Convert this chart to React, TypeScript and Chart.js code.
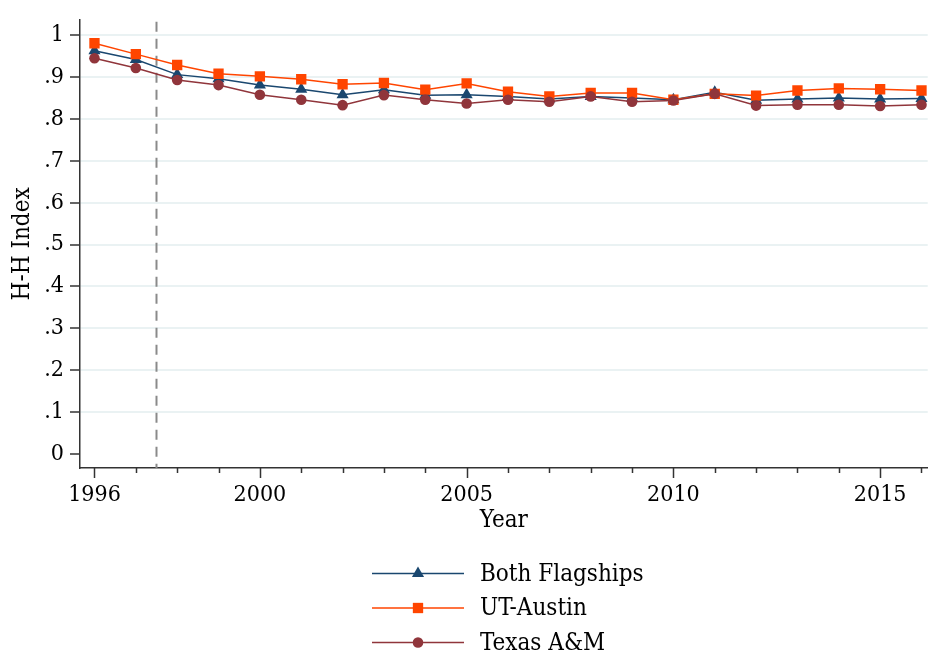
import React, { useEffect, useRef } from "react";
import { Chart, registerables } from "chart.js";

Chart.register(...registerables);

// ---- data ----
const years = [1996, 1997, 1998, 1999, 2000, 2001, 2002, 2003, 2004, 2005, 2006, 2007, 2008, 2009, 2010, 2011, 2012, 2013, 2014, 2015, 2016];
const bothFlagships = [0.963, 0.942, 0.906, 0.896, 0.881, 0.871, 0.858, 0.870, 0.857, 0.858, 0.854, 0.848, 0.854, 0.850, 0.846, 0.864, 0.845, 0.848, 0.850, 0.848, 0.849];
const utAustin = [0.981, 0.955, 0.929, 0.908, 0.902, 0.895, 0.883, 0.886, 0.870, 0.885, 0.865, 0.854, 0.862, 0.862, 0.846, 0.860, 0.856, 0.868, 0.873, 0.871, 0.868];
const texasAM = [0.945, 0.922, 0.893, 0.881, 0.858, 0.846, 0.833, 0.857, 0.846, 0.837, 0.846, 0.841, 0.854, 0.841, 0.844, 0.860, 0.832, 0.834, 0.834, 0.831, 0.834];
const seriesNames = ["Both Flagships", "UT-Austin", "Texas A&M"];
const xLabelYears = [1996, 2000, 2005, 2010, 2015];
const yTickValues = [0, 0.1, 0.2, 0.3, 0.4, 0.5, 0.6, 0.7, 0.8, 0.9, 1];
const policyYear = 1997.5;
const xTitle = "Year";
const yTitle = "H-H Index";

const NAVY = "#1a476f";
const ORANGE = "#ff4500";
const MAROON = "#90353b";
const AXIS = "#333333";
const GRID = "#eaf2f3";
const COND = "'DejaVu Serif Condensed', 'DejaVu Serif', serif";

const pointStyles = ["triangle", "rect", "circle"];
const pointRadii = [7, 7.3, 5.3];
const colors = [NAVY, ORANGE, MAROON];

function drawMarker(ctx: CanvasRenderingContext2D, style: string, x: number, y: number, r: number, color: string) {
  ctx.save();
  ctx.fillStyle = color;
  ctx.beginPath();
  if (style === "triangle") {
    ctx.moveTo(x, y - r);
    ctx.lineTo(x + r * Math.sin((2 * Math.PI) / 3), y - r * Math.cos((2 * Math.PI) / 3));
    ctx.lineTo(x + r * Math.sin((4 * Math.PI) / 3), y - r * Math.cos((4 * Math.PI) / 3));
    ctx.closePath();
  } else if (style === "rect") {
    const s = r * Math.SQRT1_2;
    ctx.rect(x - s, y - s, 2 * s, 2 * s);
  } else {
    ctx.arc(x, y, r, 0, Math.PI * 2);
  }
  ctx.fill();
  ctx.restore();
}

const refLinePlugin = {
  id: "refLine",
  beforeDatasetsDraw(chart: any) {
    const { ctx, chartArea, scales } = chart;
    const x = scales.x.getPixelForValue(policyYear);
    ctx.save();
    ctx.strokeStyle = "#8a8a8a";
    ctx.lineWidth = 2;
    ctx.setLineDash([10, 7]);
    ctx.beginPath();
    ctx.moveTo(x, chartArea.top + 2);
    ctx.lineTo(x, chartArea.bottom);
    ctx.stroke();
    ctx.restore();
  },
};

const xTickPlugin = {
  id: "xTickMarks",
  afterDraw(chart: any) {
    const { ctx, chartArea, scales } = chart;
    ctx.save();
    ctx.strokeStyle = AXIS;
    ctx.lineWidth = 1.5;
    years.forEach((yr) => {
      const x = Math.round(scales.x.getPixelForValue(yr)) + 0.5;
      const len = xLabelYears.includes(yr) ? 10 : 5;
      ctx.beginPath();
      ctx.moveTo(x, chartArea.bottom);
      ctx.lineTo(x, chartArea.bottom + len);
      ctx.stroke();
    });
    ctx.restore();
  },
};

const legendPlugin = {
  id: "customLegend",
  afterDraw(chart: any) {
    const { ctx } = chart;
    const x0 = 372;
    const x1 = 464;
    const xm = 418;
    const textX = 480;
    const rowY = [573.5, 608, 642.5];
    ctx.save();
    chart.data.datasets.forEach((ds: any, i: number) => {
      const y = rowY[i];
      ctx.strokeStyle = ds.borderColor;
      ctx.lineWidth = 1.5;
      ctx.beginPath();
      ctx.moveTo(x0, y);
      ctx.lineTo(x1, y);
      ctx.stroke();
      drawMarker(ctx, pointStyles[i], xm, y, pointRadii[i], ds.borderColor);
      ctx.fillStyle = "#000";
      ctx.font = `24px ${COND}`;
      ctx.textBaseline = "middle";
      ctx.textAlign = "left";
      ctx.fillText(ds.label, textX, y + 1);
    });
    ctx.restore();
  },
};

function formatY(v: number): string {
  if (Math.abs(v) < 1e-9) return "0";
  if (Math.abs(v - 1) < 1e-9) return "1";
  return "." + Math.round(v * 10);
}

export default function App() {
  const canvasRef = useRef<HTMLCanvasElement | null>(null);

  useEffect(() => {
    const canvas = canvasRef.current;
    if (!canvas) return;
    const seriesData = [bothFlagships, utAustin, texasAM];
    const chart = new Chart(canvas, {
      type: "line",
      data: {
        datasets: seriesData.map((vals, i) => ({
          label: seriesNames[i],
          data: years.map((yr, j) => ({ x: yr, y: vals[j] })),
          borderColor: colors[i],
          backgroundColor: colors[i],
          borderWidth: 1.5,
          pointStyle: pointStyles[i] as any,
          pointRadius: pointRadii[i],
          pointHoverRadius: pointRadii[i],
          pointBorderWidth: 0,
          pointBackgroundColor: colors[i],
          tension: 0,
          fill: false,
          order: 2 - i,
        })),
      },
      options: {
        animation: false,
        responsive: false,
        maintainAspectRatio: false,
        layout: { padding: { top: 8, right: 0, bottom: 120, left: 0 } },
        plugins: {
          legend: { display: false },
          tooltip: { enabled: false },
        },
        scales: {
          x: {
            type: "linear",
            min: 1995.65,
            max: 2016.15,
            afterBuildTicks: (scale: any) => {
              scale.ticks = years.map((v) => ({ value: v }));
            },
            afterFit: (scale: any) => {
              scale.height = 70;
            },
            ticks: {
              autoSkip: false,
              maxRotation: 0,
              minRotation: 0,
              padding: 13,
              color: "#000",
              font: { family: COND, size: 23 },
              callback: (v: any) => (xLabelYears.includes(Number(v)) ? String(v) : ""),
            },
            grid: { display: true, drawOnChartArea: false, drawTicks: false },
            border: { display: true, color: AXIS, width: 1.5 },
            title: {
              display: true,
              text: xTitle,
              color: "#000",
              font: { family: COND, size: 24 },
              padding: { top: 0, bottom: 3 },
            },
          },
          y: {
            type: "linear",
            min: -0.034,
            max: 1.037,
            afterBuildTicks: (scale: any) => {
              scale.ticks = yTickValues.map((v) => ({ value: v }));
            },
            afterFit: (scale: any) => {
              scale.width = 80;
            },
            ticks: {
              padding: 6,
              color: "#000",
              font: { family: COND, size: 23 },
              callback: (v: any) => formatY(Number(v)),
            },
            grid: {
              color: (ctx: any) => (ctx.tick && Math.abs(ctx.tick.value) < 1e-9 ? "rgba(0,0,0,0)" : GRID),
              lineWidth: 2,
              tickColor: AXIS,
              tickLength: 10,
              tickWidth: 1.5,
              drawTicks: true,
            },
            border: { display: true, color: AXIS, width: 1.5 },
            title: {
              display: true,
              text: yTitle,
              color: "#000",
              font: { family: COND, size: 24 },
              padding: { top: 8, bottom: 0 },
            },
          },
        },
      },
      plugins: [refLinePlugin, xTickPlugin, legendPlugin],
    } as any);
    return () => chart.destroy();
  }, []);

  return (
    <div style={{ position: "absolute", left: 0, top: 0, width: 935, height: 658, background: "#fff" }}>
      <canvas ref={canvasRef} width={935} height={658} />
    </div>
  );
}
